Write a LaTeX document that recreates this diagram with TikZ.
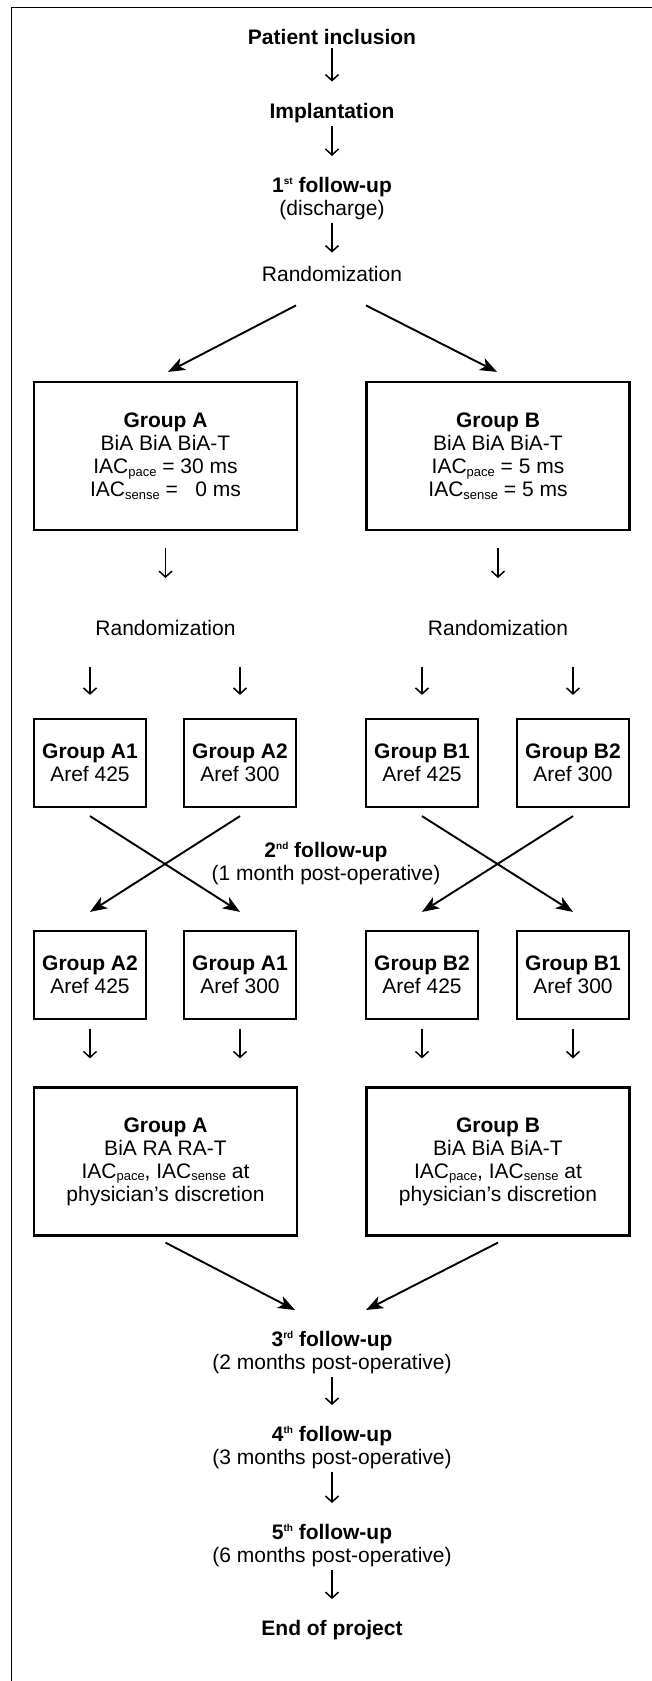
\documentclass[tikz,border=0pt]{standalone}
\usepackage{fontspec}
\setmainfont{Liberation Sans}
\usetikzlibrary{arrows.meta}
\newcommand{\fsz}{\fontsize{21}{23}\selectfont}
\newcommand{\fusup}[1]{\raisebox{7.5pt}{\fontsize{10}{10}\selectfont #1}}
\newcommand{\iacsub}[1]{\raisebox{-2.5pt}{\fontsize{13}{13}\selectfont #1}}

\begin{document}
\begin{tikzpicture}[x=1pt,y=-1pt,
        txt/.style={inner sep=0pt,font=\fsz,align=center},
        bold txt/.style={txt,font=\fsz\bfseries},
        big box/.style={draw,line width=2.2pt,inner sep=0pt,font=\fsz,align=center,
            minimum width=263pt,minimum height=148pt},
        small box/.style={big box,minimum width=112pt,minimum height=88pt},
        varrow/.style={line width=1.5pt,-{Straight Barb[length=6pt,width=13pt]},
            shorten <=3.5pt,shorten >=21pt},
        darrow/.style={line width=1.9pt,-{Stealth[length=17pt,width=13pt,inset=4.5pt]}}]

    \useasboundingbox (0,0) rectangle (652,1681);
    \draw[line width=1.6pt] (652,7.5) -- (11.5,7.5) -- (11.5,1681);

    \node[bold txt,anchor=base] (incl) at (332,44) {Patient inclusion};
    \node[bold txt,anchor=base] (impl) at (332,118) {Implantation};
    \node[txt,anchor=north] (fu1) at (332,177) {{\bfseries 1\fusup{st} follow-up}\\(discharge)};
    \node[txt,anchor=base] (rand) at (332,281.5) {Randomization};

    \node[big box] (gA) at (165.5,456) {{\bfseries Group A}\\BiA BiA BiA-T\\IAC\iacsub{pace} = 30 ms\\IAC\iacsub{sense} = \phantom{3}0 ms};
    \node[big box] (gB) at (498,456) {{\bfseries Group B}\\BiA BiA BiA-T\\IAC\iacsub{pace} = 5 ms\\IAC\iacsub{sense} = 5 ms};

    \node[txt,anchor=base] (rA) at (165.5,635.5) {Randomization};
    \node[txt,anchor=base] (rB) at (498,635.5) {Randomization};

    \node[small box] (a1) at (90,763) {{\bfseries Group A1}\\Aref 425};
    \node[small box] (a2) at (240,763) {{\bfseries Group A2}\\Aref 300};
    \node[small box] (b1) at (422,763) {{\bfseries Group B1}\\Aref 425};
    \node[small box] (b2) at (573,763) {{\bfseries Group B2}\\Aref 300};

    \node[txt,anchor=north] (fu2) at (326,842) {{\bfseries 2\fusup{nd} follow-up}\\(1 month post-operative)};

    \node[small box] (a2x) at (90,975) {{\bfseries Group A2}\\Aref 425};
    \node[small box] (a1x) at (240,975) {{\bfseries Group A1}\\Aref 300};
    \node[small box] (b2x) at (422,975) {{\bfseries Group B2}\\Aref 425};
    \node[small box] (b1x) at (573,975) {{\bfseries Group B1}\\Aref 300};

    \node[big box] (gC) at (165.5,1161.5) {{\bfseries Group A}\\BiA RA RA-T\\IAC\iacsub{pace}, IAC\iacsub{sense} at\\physician’s discretion};
    \node[big box] (gD) at (498,1161.5) {{\bfseries Group B}\\BiA BiA BiA-T\\IAC\iacsub{pace}, IAC\iacsub{sense} at\\physician’s discretion};

    \node[txt,anchor=north] (fu3) at (332,1331) {{\bfseries 3\fusup{rd} follow-up}\\(2 months post-operative)};
    \node[txt,anchor=north] (fu4) at (332,1426) {{\bfseries 4\fusup{th} follow-up}\\(3 months post-operative)};
    \node[txt,anchor=north] (fu5) at (332,1524) {{\bfseries 5\fusup{th} follow-up}\\(6 months post-operative)};
    \node[bold txt,anchor=base] (fin) at (332,1635.5) {End of project};

    \path
    (incl) edge[varrow] (impl)
    (impl) edge[varrow] (fu1)
    (fu1) edge[varrow,shorten >=13.5pt] (rand)
    ([xshift=-36pt,yshift=-23.5pt]rand.south) edge[darrow] ([xshift=2.5pt,yshift=9pt]gA.north)
    ([xshift=34pt,yshift=-23.5pt]rand.south) edge[darrow] ([xshift=-1pt,yshift=9pt]gB.north)
    (gA) edge[varrow,shorten <=17pt,shorten >=42pt] (rA)
    (gB) edge[varrow,shorten <=17pt,shorten >=42pt] (rB)
    (rA.south -| a1) edge[varrow,shorten <=31.5pt,shorten >=23pt] (a1)
    (rA.south -| a2) edge[varrow,shorten <=31.5pt,shorten >=23pt] (a2)
    (rB.south -| b1) edge[varrow,shorten <=31.5pt,shorten >=23pt] (b1)
    (rB.south -| b2) edge[varrow,shorten <=31.5pt,shorten >=23pt] (b2)
    ([yshift=-8pt]a1.south) edge[darrow] ([yshift=18pt]a1x.north)
    ([yshift=-8pt]a2.south) edge[darrow] ([yshift=18pt]a2x.north)
    ([yshift=-8pt]b1.south) edge[darrow] ([yshift=18pt]b1x.north)
    ([yshift=-8pt]b2.south) edge[darrow] ([yshift=18pt]b2x.north)
    (a2x) edge[varrow,shorten <=9pt,shorten >=28pt] (a2x |- gC.north)
    (a1x) edge[varrow,shorten <=9pt,shorten >=28pt] (a1x |- gC.north)
    (b2x) edge[varrow,shorten <=9pt,shorten >=28pt] (b2x |- gD.north)
    (b1x) edge[varrow,shorten <=9pt,shorten >=28pt] (b1x |- gD.north)
    ([yshift=-6pt]gC.south) edge[darrow] ([xshift=-37pt,yshift=21pt]fu3.north)
    ([yshift=-6pt]gD.south) edge[darrow] ([xshift=34pt,yshift=21pt]fu3.north)
    (fu3) edge[varrow] (fu4)
    (fu4) edge[varrow] (fu5)
    (fu5) edge[varrow] (fin)
    ;
\end{tikzpicture}
\end{document}
